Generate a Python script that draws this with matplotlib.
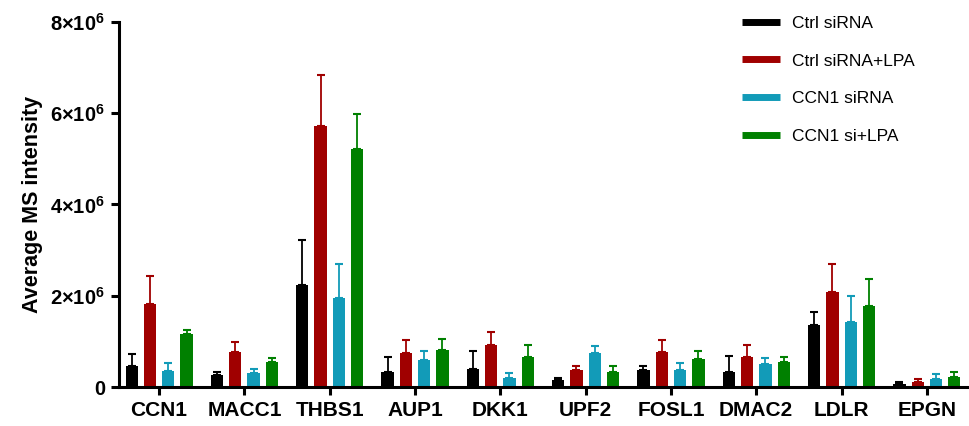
import matplotlib
matplotlib.use("Agg")
import matplotlib.pyplot as plt
import numpy as np

plt.rcParams['font.family'] = ['Liberation Sans', 'DejaVu Sans']
plt.rcParams['mathtext.fontset'] = 'custom'
plt.rcParams['mathtext.bf'] = 'Liberation Sans:bold'
plt.rcParams['mathtext.rm'] = 'Liberation Sans:bold'

# Data (units of 1e6)
genes = ['CCN1', 'MACC1', 'THBS1', 'AUP1', 'DKK1', 'UPF2', 'FOSL1', 'DMAC2', 'LDLR', 'EPGN']
series = ['Ctrl siRNA', 'Ctrl siRNA+LPA', 'CCN1 siRNA', 'CCN1 si+LPA']
colors = ['#000000', '#a00000', '#129bb8', '#008000']

ctrl = [0.46, 0.26, 2.24, 0.32, 0.39, 0.15, 0.37, 0.32, 1.37, 0.07]
ctrl_top = [0.72, 0.32, 3.22, 0.65, 0.78, 0.19, 0.45, 0.67, 1.64, 0.12]
ctrl_lpa = [1.82, 0.77, 5.71, 0.75, 0.91, 0.38, 0.77, 0.65, 2.08, 0.12]
ctrl_lpa_top = [2.43, 0.98, 6.84, 1.04, 1.20, 0.47, 1.03, 0.91, 2.70, 0.17]
ccn1 = [0.35, 0.31, 1.94, 0.59, 0.19, 0.74, 0.38, 0.50, 1.42, 0.17]
ccn1_top = [0.52, 0.39, 2.69, 0.79, 0.30, 0.90, 0.52, 0.64, 1.99, 0.29]
ccn1_lpa = [1.16, 0.55, 5.21, 0.81, 0.65, 0.32, 0.62, 0.55, 1.77, 0.23]
ccn1_lpa_top = [1.25, 0.64, 5.98, 1.06, 0.91, 0.46, 0.79, 0.66, 2.36, 0.34]

yticks = [0, 2, 4, 6, 8]
ytick_labels = ['0', r'$\mathbf{2{\times}10^{6}}$', r'$\mathbf{4{\times}10^{6}}$',
                r'$\mathbf{6{\times}10^{6}}$', r'$\mathbf{8{\times}10^{6}}$']

means = [ctrl, ctrl_lpa, ccn1, ccn1_lpa]
tops = [ctrl_top, ctrl_lpa_top, ccn1_top, ccn1_lpa_top]

fig = plt.figure(figsize=(9.7, 4.26), dpi=100)
ax = fig.add_axes([0.1227, 0.0915, 0.875, 0.857])

x = np.arange(len(genes))
step = 0.2146
width = 0.144
for i in range(4):
    pos = x + (i - 1.5) * step
    m = np.array(means[i]) * 1e6
    t = np.array(tops[i]) * 1e6
    ax.bar(pos, m, width=width, color=colors[i], label=series[i], zorder=2)
    ax.errorbar(pos, m, yerr=[np.zeros_like(m), t - m], fmt='none',
                ecolor=colors[i], elinewidth=1.3, capsize=3, capthick=1.5, zorder=1)

ax.set_xlim(-0.47, 9.48)
ax.set_ylim(0, 8e6)
ax.set_yticks([v * 1e6 for v in yticks])
ax.set_yticklabels(ytick_labels)
ax.set_xticks(x)
ax.set_xticklabels(genes)
for lab in ax.get_xticklabels():
    lab.set_fontweight('bold')
    lab.set_fontsize(15)
for lab in ax.get_yticklabels():
    lab.set_fontweight('bold')
    lab.set_fontsize(14.5)
ax.set_ylabel('Average MS intensity', fontsize=15.5, fontweight='bold', labelpad=5)

for s in ['top', 'right']:
    ax.spines[s].set_visible(False)
for s in ['left', 'bottom']:
    ax.spines[s].set_linewidth(2.2)
ax.tick_params(axis='both', length=6, width=2.2, pad=4)

handles = [plt.Line2D([0], [0], color=c, lw=5, solid_capstyle='butt') for c in colors]
leg = ax.legend(handles, series, loc='upper left', bbox_to_anchor=(0.715, 1.06),
                frameon=False, fontsize=12.5, handlelength=2.2, handletextpad=0.7,
                labelspacing=1.3)

fig.savefig('out.png', dpi=100)
